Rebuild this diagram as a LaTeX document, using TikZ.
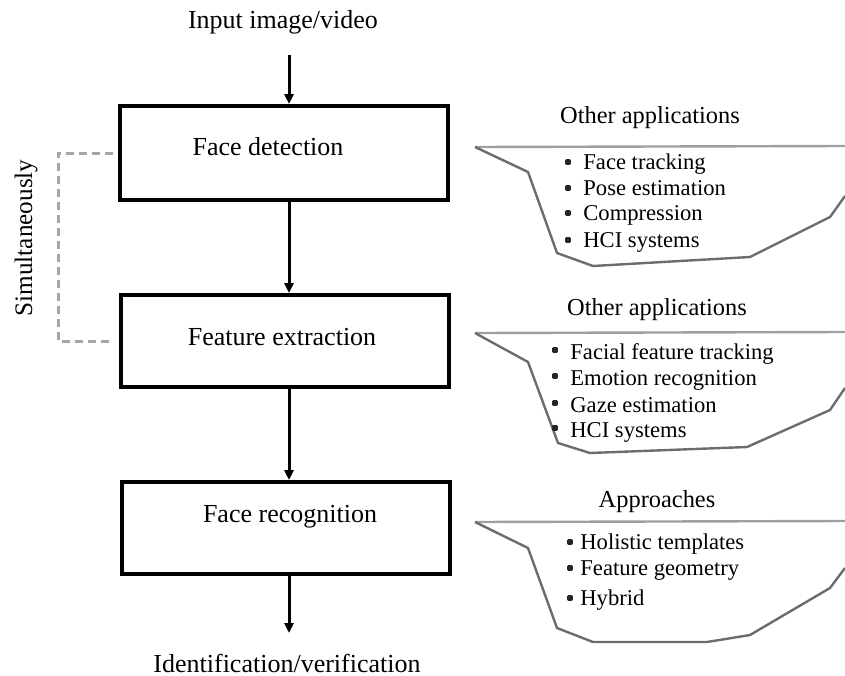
\documentclass[tikz,border=0pt]{standalone}
\usepackage{fontspec}
\setmainfont{Liberation Serif}
\usetikzlibrary{arrows.meta}
\begin{document}
\begin{tikzpicture}[x=0.5pt,y=-0.5pt,
  stagebox/.style={draw=black,line width=2pt,inner sep=0pt,minimum width=164pt},
  flowarrow/.style={draw=black,line width=1.5pt,-{Triangle[length=5pt,width=4.5pt]}},
  stagetext/.style={font=\fontsize{13}{15}\selectfont,inner sep=0pt},
  iotext/.style={font=\fontsize{13}{15}\selectfont,inner sep=0pt},
  simline/.style={draw=gray!70,line width=1.5pt,dash pattern=on 4pt off 2.5pt},
  callout/.style={draw=gray!85!black,line width=1.2pt,line join=round},
  calltop/.style={draw=gray!75,line width=1.2pt},
  calltitle/.style={font=\fontsize{12.2}{14}\selectfont,inner sep=0pt},
  callitem/.style={font=\fontsize{11.3}{13}\selectfont,inner sep=0pt,anchor=base west},
  bulletdot/.style={rectangle,rounded corners=0.5pt,fill=black!85,inner sep=0pt,minimum size=2.8pt}
]
\useasboundingbox (0,0) rectangle (845,675);

% input / output texts
\node[iotext] (in) at (283,22) {Input image/video};
\node[iotext] (out) at (287,663) {Identification/verification};

% stage boxes
\node[stagebox,minimum height=47pt] (fd) at (284,153) {};
\node[stagebox,minimum height=46pt] (fx) at (284.5,341) {};
\node[stagebox,minimum height=46pt] (fr) at (285.5,528) {};
\node[stagetext] (fdt) at (268,147) {Face detection};
\node[stagetext] (fxt) at (282,337) {Feature extraction};
\node[stagetext] (frt) at (290,517) {Face recognition};

% arrows
\coordinate (ax) at (289,0);
\coordinate (a0) at (289,55);
\coordinate (a4) at (289,633);
\draw[flowarrow] (a0) -- (fd.north -| ax);
\draw[flowarrow] (fd.south -| ax) -- (fx.north -| ax);
\draw[flowarrow] (fx.south -| ax) -- (fr.north -| ax);
\draw[flowarrow] (fr.south -| ax) -- (a4);

% simultaneously link
\coordinate (s1) at (113,153);
\coordinate (s2) at (113,341);
\draw[simline] (s1) -- (58,153) -- (58,341) -- (s2);
\node[font=\fontsize{12.6}{14}\selectfont,rotate=90,inner sep=0pt] (sim) at (26,238) {Simultaneously};

% callout 1
\draw[calltop] (845,146) -- (475,147);
\draw[callout] (475,147) -- (528,172) -- (557,253) -- (593,266) -- (750,257) -- (830,217) -- (845,196);
\node[calltitle] (t1) at (650,118) {Other applications};
\foreach \n/\y/\t in {a/162/Face tracking,b/188/Pose estimation,c/213/Compression,d/240/HCI systems}{
  \node[bulletdot] (b1\n) at (568,\y) {};
  \node[callitem] (i1\n) at (583,\y+7) {\t};
}

% callout 2
\draw[calltop] (845,332) -- (475,333);
\draw[callout] (475,333) -- (528,362) -- (558,443) -- (590,453) -- (747,447) -- (830,410) -- (845,388);
\node[calltitle] (t2) at (657,310) {Other applications};
\foreach \n/\y/\t in {a/352/Facial feature tracking,b/378/Emotion recognition,c/405/Gaze estimation,d/430/HCI systems}{
  \node[bulletdot] (b2\n) at (555,\y-2) {};
  \node[callitem] (i2\n) at (570,\y+7) {\t};
}

% callout 3
\draw[calltop] (845,521) -- (475,522);
\draw[callout] (475,522) -- (528,548) -- (557,628) -- (593,642) -- (707,642) -- (750,635) -- (830,588) -- (845,568);
\node[calltitle] (t3) at (657,502) {Approaches};
\foreach \n/\y/\t in {a/542/Holistic templates,b/568/Feature geometry,c/598/Hybrid}{
  \node[bulletdot] (b3\n) at (570,\y) {};
  \node[callitem] (i3\n) at (580,\y+7) {\t};
}
\end{tikzpicture}
\end{document}
